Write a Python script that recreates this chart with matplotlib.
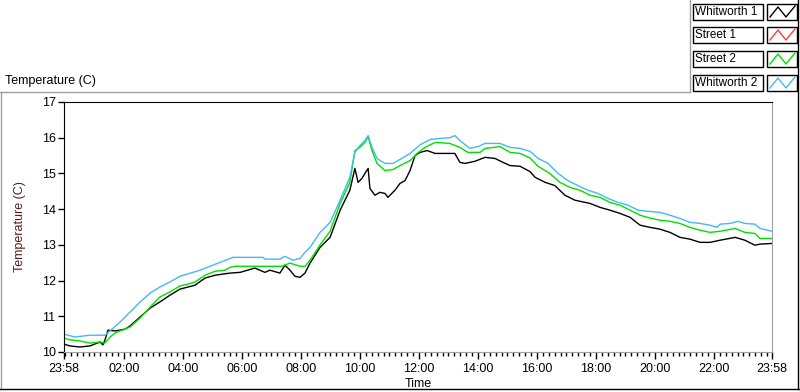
import matplotlib
matplotlib.use('Agg')
import matplotlib.pyplot as plt
from matplotlib.lines import Line2D
from matplotlib.patches import Rectangle

# hours since 23:58 (start of record)
w1_t = [0, 0.20, 0.54, 0.88, 1.22, 1.32, 1.39, 1.49, 1.73, 2.07, 2.24, 2.58, 2.92, 3.25, 3.59,
        3.93, 4.44, 4.78, 5.12, 5.63, 5.97, 6.47, 6.81, 6.98, 7.32, 7.49, 7.66, 7.83, 8.00,
        8.17, 8.34, 8.68, 9.02, 9.36, 9.69, 9.86, 9.97, 10.10, 10.20, 10.31, 10.37, 10.54,
        10.71, 10.88, 10.98, 11.22, 11.39, 11.56, 11.73, 11.90, 12.07, 12.31, 12.58, 12.92,
        13.25, 13.42, 13.59, 13.93, 14.27, 14.61, 14.88, 15.12, 15.46, 15.80, 15.97, 16.31,
        16.64, 16.98, 17.32, 17.83, 18.17, 18.51, 18.85, 19.19, 19.53, 19.86, 20.20, 20.54,
        20.88, 21.22, 21.56, 21.90, 22.24, 22.75, 23.08, 23.42, 23.59, 24.0]
w1_v = [10.22, 10.17, 10.14, 10.17, 10.28, 10.20, 10.34, 10.61, 10.59, 10.64, 10.73, 10.98,
        11.23, 11.40, 11.59, 11.76, 11.87, 12.07, 12.15, 12.21, 12.23, 12.35, 12.23, 12.29,
        12.21, 12.43, 12.29, 12.12, 12.09, 12.21, 12.49, 12.93, 13.21, 13.97, 14.53, 15.14,
        14.75, 14.86, 15.00, 15.14, 14.58, 14.39, 14.47, 14.44, 14.33, 14.53, 14.72, 14.80,
        15.08, 15.50, 15.59, 15.64, 15.56, 15.56, 15.56, 15.31, 15.28, 15.34, 15.45, 15.42,
        15.31, 15.22, 15.20, 15.05, 14.89, 14.75, 14.66, 14.39, 14.25, 14.16, 14.05, 13.97,
        13.88, 13.77, 13.55, 13.49, 13.44, 13.35, 13.21, 13.16, 13.07, 13.07, 13.13, 13.21,
        13.13, 12.99, 13.02, 13.04]

s1_t = []
s1_v = []

s2_t = [0, 0.20, 0.54, 0.88, 1.22, 1.39, 1.56, 1.73, 1.90, 2.24, 2.58, 2.92, 3.25, 3.59,
        3.93, 4.20, 4.44, 4.78, 5.12, 5.46, 5.63, 5.80, 7.39, 7.66, 8.00, 8.17, 8.34, 8.68,
        9.02, 9.36, 9.69, 9.86, 10.03, 10.20, 10.31, 10.44, 10.61, 10.88, 11.15, 11.39, 11.73,
        11.97, 12.24, 12.58, 13.08, 13.42, 13.69, 14.10, 14.27, 14.78, 15.12, 15.46, 15.80,
        16.07, 16.47, 16.81, 17.15, 17.49, 17.83, 18.17, 18.51, 18.85, 19.19, 19.53, 19.86,
        20.20, 20.54, 20.88, 21.22, 21.56, 21.90, 22.24, 22.75, 23.08, 23.42, 23.59, 24.0]
s2_v = [10.39, 10.34, 10.31, 10.25, 10.28, 10.25, 10.42, 10.53, 10.59, 10.70, 10.95, 11.26,
        11.54, 11.68, 11.85, 11.90, 11.96, 12.15, 12.26, 12.29, 12.37, 12.40, 12.40, 12.49,
        12.40, 12.40, 12.57, 13.00, 13.38, 14.16, 14.75, 15.64, 15.73, 15.87, 16.03, 15.64,
        15.28, 15.08, 15.11, 15.22, 15.36, 15.56, 15.73, 15.87, 15.84, 15.73, 15.59, 15.59,
        15.70, 15.75, 15.59, 15.56, 15.43, 15.20, 15.00, 14.75, 14.61, 14.53, 14.39, 14.33,
        14.19, 14.11, 13.97, 13.83, 13.75, 13.69, 13.66, 13.60, 13.49, 13.41, 13.35, 13.38,
        13.46, 13.35, 13.32, 13.18, 13.18]

w2_t = [0, 0.37, 0.88, 1.39, 1.56, 1.90, 2.24, 2.58, 2.92, 3.25, 3.59, 3.93, 4.61, 5.29,
        5.73, 6.75, 6.81, 7.32, 7.49, 7.76, 8.00, 8.17, 8.34, 8.68, 9.02, 9.36, 9.69, 9.86,
        10.03, 10.20, 10.31, 10.44, 10.61, 10.88, 11.15, 11.39, 11.73, 12.07, 12.41, 12.75,
        13.08, 13.25, 13.42, 13.76, 14.03, 14.27, 14.78, 15.12, 15.46, 15.80, 16.07, 16.41,
        16.75, 17.08, 17.42, 17.76, 18.10, 18.44, 18.78, 19.12, 19.46, 19.80, 20.20, 20.54,
        20.88, 21.22, 21.56, 21.90, 22.14, 22.24, 22.58, 22.85, 23.08, 23.42, 23.59, 24.0]
w2_v = [10.50, 10.42, 10.47, 10.47, 10.59, 10.84, 11.12, 11.40, 11.65, 11.82, 11.96, 12.12,
        12.29, 12.51, 12.65, 12.65, 12.60, 12.60, 12.68, 12.57, 12.62, 12.79, 12.93, 13.35,
        13.63, 14.25, 14.89, 15.59, 15.78, 15.92, 16.06, 15.73, 15.42, 15.28, 15.28, 15.39,
        15.56, 15.80, 15.95, 15.98, 16.00, 16.06, 15.92, 15.70, 15.75, 15.84, 15.84, 15.73,
        15.70, 15.62, 15.42, 15.28, 15.00, 14.80, 14.66, 14.53, 14.44, 14.30, 14.19, 14.11,
        13.97, 13.94, 13.91, 13.83, 13.74, 13.63, 13.60, 13.55, 13.49, 13.58, 13.60, 13.66,
        13.60, 13.58, 13.46, 13.38]

names = ['Whitworth 1', 'Street 1', 'Street 2', 'Whitworth 2']
colors = ['black', '#ee4444', '#00e000', '#44b8f4']

x_ticks = [0, 2 + 2/60, 4 + 2/60, 6 + 2/60, 8 + 2/60, 10 + 2/60, 12 + 2/60, 14 + 2/60,
           16 + 2/60, 18 + 2/60, 20 + 2/60, 22 + 2/60, 24]
x_labels = ['23:58', '02:00', '04:00', '06:00', '08:00', '10:00', '12:00', '14:00',
            '16:00', '18:00', '20:00', '22:00', '23:58']
y_ticks = [10, 11, 12, 13, 14, 15, 16, 17]

W, H = 800, 392
plt.rcParams['font.family'] = ['Liberation Sans', 'DejaVu Sans']
FS = 9
fig = plt.figure(figsize=(8, 3.92), dpi=100)


def fp(x, y):
    return x / W, 1 - y / H


ax = fig.add_axes([64 / W, 1 - 352 / H, (772 - 64) / W, (352 - 102) / H])
series = [(w1_t, w1_v), (s1_t, s1_v), (s2_t, s2_v), (w2_t, w2_v)]
order = [1, 0, 2, 3]
for i in order:
    t, v = series[i]
    ax.plot(t, v, color=colors[i], lw=1.0)

ax.set_xlim(0, 24)
ax.set_ylim(10, 17)
ax.set_xticks(x_ticks)
ax.set_xticklabels(x_labels)
minor = [k * 0.2 + 2/60 for k in range(0, 120) if k * 0.2 + 2/60 < 24]
ax.set_xticks(minor, minor=True)
ax.set_yticks(y_ticks)
ax.tick_params(axis='both', labelsize=FS, colors='black', direction='out')
ax.tick_params(axis='x', which='major', length=5, width=1, pad=3)
ax.tick_params(axis='x', which='minor', length=3, width=1)
ax.tick_params(axis='y', length=4, width=1, pad=2)
for s in ['top', 'left']:
    ax.spines[s].set_color('black')
for s in ['bottom', 'right']:
    ax.spines[s].set_color('#a0a0a0')
ax.set_ylabel('Temperature (C)', fontsize=FS, color='#5a1a1a', va='center', ha='center')
ax.yaxis.set_label_coords(-0.062, 0.5)
ax.set_xlabel('Time', fontsize=FS, va='center', ha='center')
ax.xaxis.set_label_coords(0.5, -0.128)

# top-left title label
fig.text(*fp(5, 81), 'Temperature (C)', fontsize=FS, va='center', ha='left')

# panel frame
fig.add_artist(Line2D([0, 690 / W], [1 - 92 / H] * 2, color='#a0a0a0', lw=1))
fig.add_artist(Line2D([690 / W] * 2, [1 - 92 / H, 1], color='#a0a0a0', lw=1))
fig.add_artist(Line2D([1 / W] * 2, [1 - 389 / H, 1 - 92 / H], color='#a0a0a0', lw=1))
fig.add_artist(Line2D([0, 1], [1 - 389 / H] * 2, color='black', lw=1))
fig.add_artist(Line2D([798 / W] * 2, [1 - 389 / H, 1], color='black', lw=1))

# legend
rows = [4, 27, 51, 75]
for name, col, y0 in zip(names, colors, rows):
    fig.add_artist(Rectangle(fp(693, y0 + 16), 70 / W, 16 / H, fill=False,
                             edgecolor='black', lw=1))
    fig.text(*fp(695, y0 + 8), name, fontsize=8.5, va='center', ha='left')
    fig.add_artist(Rectangle(fp(767, y0 + 16), 30 / W, 16 / H, fill=False,
                             edgecolor='black', lw=1))
    zx = [770, 778, 786, 795]
    zy = [y0 + 13, y0 + 3, y0 + 13, y0 + 2]
    fig.add_artist(Line2D([a / W for a in zx], [1 - b / H for b in zy], color=col, lw=1))

fig.savefig('out.png', dpi=100)
